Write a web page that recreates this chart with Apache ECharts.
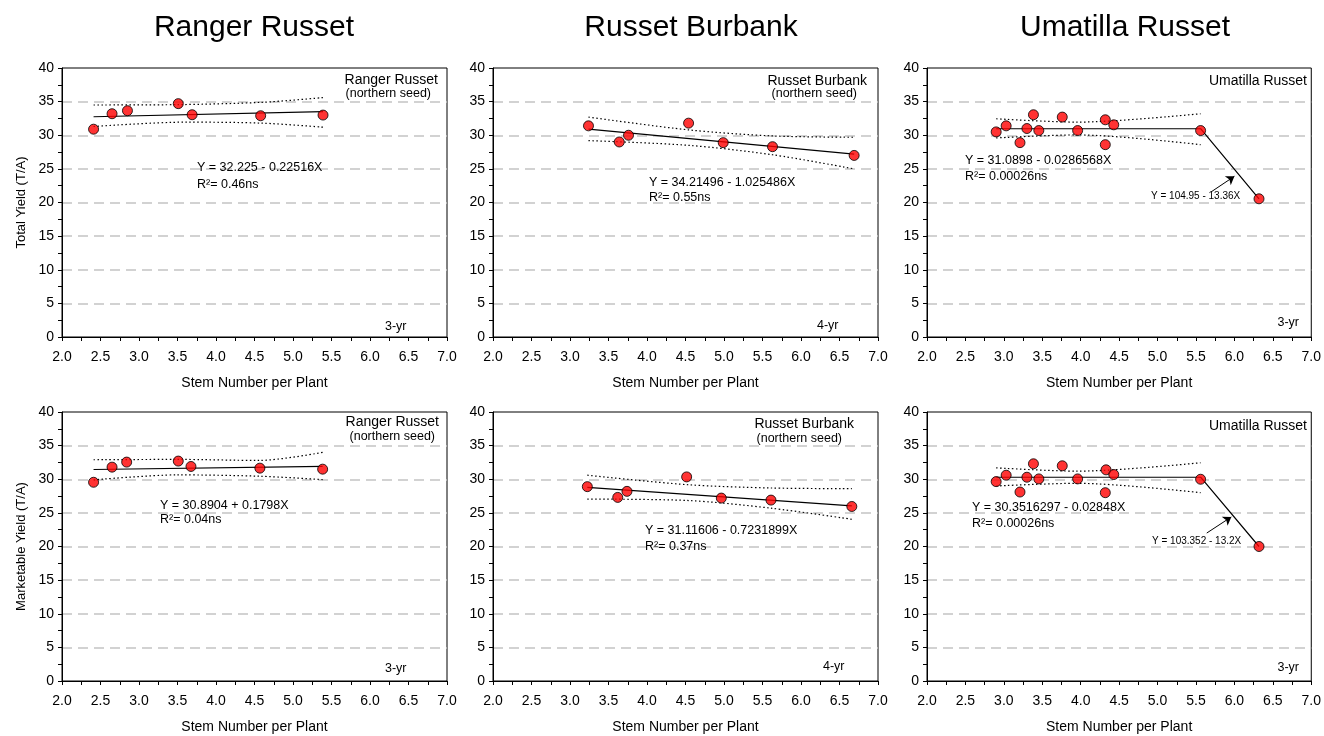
<!DOCTYPE html>
<html>
<head>
<meta charset="utf-8">
<title>Stem number vs yield</title>
<script src="https://cdn.jsdelivr.net/npm/echarts@6/dist/echarts.min.js"></script>
<style>
  html, body { margin: 0; padding: 0; background: #fff; }
  #chart { width: 1324px; height: 736px; }
</style>
</head>
<body>
<div id="chart"></div>
<script>
// tick labels
const xTicks = ['2.0', '2.5', '3.0', '3.5', '4.0', '4.5', '5.0', '5.5', '6.0', '6.5', '7.0'];
const yTicks = [0, 5, 10, 15, 20, 25, 30, 35, 40];
const panelTitles = ['Ranger Russet', 'Russet Burbank', 'Umatilla Russet'];

// --- Ranger Russet, total yield
const rangerTotalPts = [[2.41, 30.9], [2.65, 33.2], [2.85, 33.65], [3.51, 34.7], [3.69, 33.05], [4.58, 32.9], [5.39, 33.0]];
const rangerTotalFit = [[2.41, 32.75], [5.39, 33.5]];
const rangerTotalUp = [[2.41, 34.5], [3.5, 34.55], [4.6, 34.9], [5.39, 35.6]];
const rangerTotalLo = [[2.41, 31.3], [3.6, 31.95], [4.6, 31.8], [5.39, 31.2]];

// --- Russet Burbank, total yield
const burbankTotalPts = [[3.24, 31.4], [3.64, 29.0], [3.76, 30.0], [4.54, 31.8], [4.99, 28.9], [5.63, 28.3], [6.69, 27.0]];
const burbankTotalFit = [[3.24, 30.9], [6.69, 27.2]];
const burbankTotalUp = [[3.24, 32.7], [4.54, 30.8], [5.63, 29.9], [6.69, 29.7]];
const burbankTotalLo = [[3.24, 29.2], [4.54, 28.5], [5.63, 27.1], [6.69, 25.0]];

// --- Umatilla Russet, total yield
const umatillaTotalPts = [[2.90, 30.5], [3.03, 31.4], [3.21, 28.9], [3.30, 31.0], [3.385, 33.05], [3.455, 30.7], [3.76, 32.7],
  [3.96, 30.7], [4.32, 32.3], [4.32, 28.6], [4.43, 31.55], [5.56, 30.7], [6.32, 20.55]];
const umatillaTotalFit = [[2.90, 30.97], [5.56, 30.97], [6.32, 20.55]];
const umatillaTotalUp = [[2.90, 32.45], [3.96, 31.95], [5.56, 33.2]];
const umatillaTotalLo = [[2.90, 29.6], [3.96, 30.05], [5.56, 28.6]];
const umatillaTotalArrow = [[5.70, 21.6], [6.0, 23.9]];

// --- Ranger Russet, marketable yield
const rangerMktPts = [[2.41, 29.55], [2.65, 31.8], [2.84, 32.55], [3.51, 32.7], [3.675, 31.9], [4.57, 31.65], [5.385, 31.5]];
const rangerMktFit = [[2.41, 31.45], [5.385, 31.9]];
const rangerMktUp = [[2.41, 32.9], [3.5, 32.95], [4.57, 32.8], [5.385, 34.0]];
const rangerMktLo = [[2.41, 29.9], [3.5, 30.65], [4.57, 30.45], [5.385, 29.95]];

// --- Russet Burbank, marketable yield
const burbankMktPts = [[3.225, 28.9], [3.62, 27.3], [3.74, 28.2], [4.515, 30.35], [4.965, 27.2], [5.61, 26.9], [6.66, 25.95]];
const burbankMktFit = [[3.225, 28.8], [6.66, 26.05]];
const burbankMktUp = [[3.225, 30.6], [4.515, 29.2], [5.61, 28.7], [6.66, 28.6]];
const burbankMktLo = [[3.225, 27.05], [4.515, 26.85], [5.61, 25.7], [6.66, 24.05]];

// --- Umatilla Russet, marketable yield
const umatillaMktPts = [[2.90, 29.65], [3.03, 30.6], [3.21, 28.1], [3.30, 30.3], [3.385, 32.3], [3.455, 30.05], [3.76, 32.0],
  [3.96, 30.05], [4.33, 31.4], [4.32, 28.0], [4.43, 30.7], [5.56, 30.0], [6.32, 20.0]];
const umatillaMktFit = [[2.90, 30.3], [5.56, 30.3], [6.32, 20.0]];
const umatillaMktUp = [[2.90, 31.7], [3.96, 31.2], [5.56, 32.45]];
const umatillaMktLo = [[2.90, 29.0], [3.96, 29.4], [5.56, 28.0]];
const umatillaMktArrow = [[5.64, 22.0], [5.96, 24.4]];

const FONT = "'Liberation Sans', Arial, sans-serif";

const panels = [
  { pts: rangerTotalPts, fit: rangerTotalFit, up: rangerTotalUp, lo: rangerTotalLo },
  { pts: burbankTotalPts, fit: burbankTotalFit, up: burbankTotalUp, lo: burbankTotalLo },
  { pts: umatillaTotalPts, fit: umatillaTotalFit, up: umatillaTotalUp, lo: umatillaTotalLo, arrow: umatillaTotalArrow },
  { pts: rangerMktPts, fit: rangerMktFit, up: rangerMktUp, lo: rangerMktLo },
  { pts: burbankMktPts, fit: burbankMktFit, up: burbankMktUp, lo: burbankMktLo },
  { pts: umatillaMktPts, fit: umatillaMktFit, up: umatillaMktUp, lo: umatillaMktLo, arrow: umatillaMktArrow },
];

const gridLefts = [62, 493, 927];
const gridTops = [68, 412];
const titleCenters = [249, 686, 1120];
const yNames = ['Total Yield (T/A)', 'Marketable Yield (T/A)'];

const grids = [], xAxes = [], yAxes = [], series = [];

panels.forEach(function (p, i) {
  const col = i % 3, row = Math.floor(i / 3);
  grids.push({
    left: gridLefts[col], top: gridTops[row], width: 385, height: 269,
    show: true, borderColor: '#000', borderWidth: 1, backgroundColor: 'transparent'
  });
  xAxes.push({
    gridIndex: i, type: 'value', min: 2, max: 7, interval: 0.5,
    name: 'Stem Number per Plant', nameLocation: 'middle', nameGap: 39,
    nameTextStyle: { color: '#000', fontSize: 14, fontFamily: FONT },
    axisLine: { lineStyle: { color: '#000', width: 1 } },
    axisTick: { show: true, length: 4, lineStyle: { color: '#000' } },
    minorTick: { show: true, splitNumber: 2, length: 4, lineStyle: { color: '#000' } },
    splitLine: { show: false },
    axisLabel: {
      color: '#000', fontSize: 14, fontFamily: FONT, margin: 13,
      formatter: function (v) { return xTicks[Math.round((v - 2) / 0.5)]; }
    }
  });
  yAxes.push({
    gridIndex: i, type: 'value', min: yTicks[0], max: yTicks[yTicks.length - 1], interval: 5,
    name: col === 0 ? yNames[row] : '', nameLocation: 'middle', nameGap: 34,
    nameTextStyle: { color: '#000', fontSize: 13, fontFamily: FONT },
    axisLine: { show: true, lineStyle: { color: '#000', width: 1 } },
    axisTick: { show: true, length: 4, lineStyle: { color: '#000' } },
    minorTick: { show: true, splitNumber: 2, length: 4, lineStyle: { color: '#000' } },
    splitLine: {
      show: true, showMinLine: false, showMaxLine: false,
      lineStyle: { color: '#c4c4c4', width: 1.5, type: [10, 6] }
    },
    axisLabel: { color: '#000', fontSize: 14, fontFamily: FONT, margin: 8 }
  });

  // confidence bands
  [p.up, p.lo].forEach(function (band) {
    series.push({
      type: 'line', xAxisIndex: i, yAxisIndex: i, data: band, smooth: 0.3,
      showSymbol: false, symbol: 'none', silent: true, z: 2,
      lineStyle: { color: '#000', width: 1.2, type: [1.5, 2.5] }
    });
  });
  // fitted line (+ arrow pointing to segment equation)
  const fit = {
    type: 'line', xAxisIndex: i, yAxisIndex: i, data: p.fit,
    showSymbol: false, symbol: 'none', silent: true, z: 3,
    lineStyle: { color: '#000', width: 1.2 }
  };
  if (p.arrow) {
    fit.markLine = {
      silent: true, symbol: ['none', 'arrow'], symbolSize: 8, label: { show: false },
      lineStyle: { color: '#000', width: 1, type: 'solid' },
      data: [[{ coord: p.arrow[0] }, { coord: p.arrow[1] }]]
    };
  }
  series.push(fit);
  // observations
  series.push({
    type: 'scatter', xAxisIndex: i, yAxisIndex: i, data: p.pts, z: 5,
    symbol: 'circle', symbolSize: 10,
    itemStyle: { color: '#ff0000', borderColor: '#000', borderWidth: 1 }
  });
});

// in-panel notes
function txt(x, y, s, size, align) {
  return {
    type: 'text', x: x, y: y, silent: true, z: 100,
    style: { text: s, fill: '#000', font: size + 'px ' + FONT, align: align || 'left', verticalAlign: 'middle' }
  };
}

const notes = [
  // top row
  txt(438, 80, 'Ranger Russet', 14, 'right'), txt(431, 94, '(northern seed)', 12.5, 'right'),
  txt(197, 168, 'Y = 32.225 - 0.22516X', 12.5), txt(197, 185, 'R²= 0.46ns', 12.5),
  txt(385, 327, '3-yr', 12.5),
  txt(867, 81, 'Russet Burbank', 14, 'right'), txt(857, 94, '(northern seed)', 12.5, 'right'),
  txt(649, 183, 'Y = 34.21496 - 1.025486X', 12.5), txt(649, 198, 'R²= 0.55ns', 12.5),
  txt(817, 326, '4-yr', 12.5),
  txt(1307, 81, 'Umatilla Russet', 14, 'right'),
  txt(965, 161, 'Y = 31.0898 - 0.0286568X', 12.5), txt(965, 177, 'R²= 0.00026ns', 12.5),
  txt(1151, 196, 'Y = 104.95 - 13.36X', 10),
  txt(1299, 323, '3-yr', 12.5, 'right'),
  // bottom row
  txt(439, 422, 'Ranger Russet', 14, 'right'), txt(435, 437, '(northern seed)', 12.5, 'right'),
  txt(160, 506, 'Y = 30.8904 + 0.1798X', 12.5), txt(160, 520, 'R²= 0.04ns', 12.5),
  txt(385, 669, '3-yr', 12.5),
  txt(854, 424, 'Russet Burbank', 14, 'right'), txt(842, 439, '(northern seed)', 12.5, 'right'),
  txt(645, 531, 'Y = 31.11606 - 0.7231899X', 12.5), txt(645, 547, 'R²= 0.37ns', 12.5),
  txt(823, 667, '4-yr', 12.5),
  txt(1307, 426, 'Umatilla Russet', 14, 'right'),
  txt(972, 508, 'Y = 30.3516297 - 0.02848X', 12.5), txt(972, 524, 'R²= 0.00026ns', 12.5),
  txt(1152, 541, 'Y = 103.352 - 13.2X', 10),
  txt(1299, 668, '3-yr', 12.5, 'right')
];

const chart = echarts.init(document.getElementById('chart'), null, { renderer: 'canvas' });
chart.setOption({
  animation: false,
  backgroundColor: '#fff',
  title: panelTitles.map(function (t, c) {
    return {
      text: t, left: titleCenters[c], top: 8, textAlign: 'center',
      textStyle: { color: '#000', fontSize: 30, fontWeight: 'normal', fontFamily: FONT }
    };
  }),
  grid: grids,
  xAxis: xAxes,
  yAxis: yAxes,
  series: series,
  graphic: notes
});
</script>
</body>
</html>
